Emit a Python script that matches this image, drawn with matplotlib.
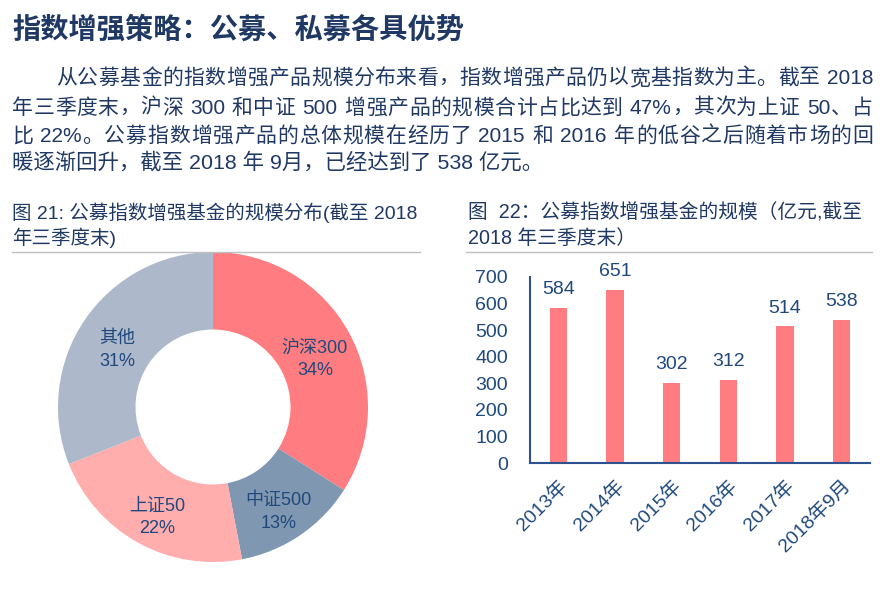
import numpy as np
import matplotlib.pyplot as plt
from matplotlib.lines import Line2D

plt.rcParams['font.family'] = ['Liberation Sans', 'Noto Sans CJK SC']

# ---- data ----
title = '指数增强策略：公募、私募各具优势'
para_lines = [
    '从公募基金的指数增强产品规模分布来看，指数增强产品仍以宽基指数为主。截至 2018',
    '年三季度末，沪深 300 和中证 500 增强产品的规模合计占比达到 47%，其次为上证 50、占',
    '比 22%。公募指数增强产品的总体规模在经历了 2015 和 2016 年的低谷之后随着市场的回',
    '暖逐渐回升，截至 2018 年 9月，已经达到了 538 亿元。',
]
cap_left = ['图 21: 公募指数增强基金的规模分布(截至 2018', '年三季度末)']
cap_right = ['图  22：公募指数增强基金的规模（亿元,截至', '2018 年三季度末）']

pie_names = ['沪深300', '中证500', '上证50', '其他']
pie_pct = [34, 13, 22, 31]
pie_colors = ['#FF7C80', '#8097B1', '#FFADAD', '#ADB9CA']

years = ['2013年', '2014年', '2015年', '2016年', '2017年', '2018年9月']
scale = [584, 651, 302, 312, 514, 538]

navy = '#1F3864'
txt_blue = '#1F497D'

W, H = 890, 594
fig = plt.figure(figsize=(W / 100, H / 100), dpi=100)
renderer = fig.canvas.get_renderer()


def px(x, y):
    return x / W, 1 - y / H


def justified(line, x0, x1, y, **kw):
    # split into tokens (runs of ascii kept together), spread extra space between them
    tokens = []
    for ch in line:
        if tokens and ch.isascii() and ch != ' ' and tokens[-1][-1].isascii() and tokens[-1][-1] != ' ':
            tokens[-1] += ch
        else:
            tokens.append(ch)
    texts = [fig.text(0, 0, t, va='center', **kw) for t in tokens]
    widths = [t.get_window_extent(renderer).width if t.get_text() != ' ' else 0.28 * kw['fontsize'] * 100 / 72
              for t in texts]
    gap = (x1 - x0 - sum(widths)) / (len(tokens) - 1)
    x = x0
    for t, w in zip(texts, widths):
        t.set_position(px(x, y))
        x += w + gap


# title and paragraph
fig.text(*px(12, 30), title, fontsize=20.3, fontweight='bold', color=navy, va='center')
para_x = [56, 12, 12, 12]
para_y = [78, 108, 136, 162]
for i, line in enumerate(para_lines):
    if i < 3:
        justified(line, para_x[i], 873, para_y[i], fontsize=15, color=navy)
    else:
        fig.text(*px(para_x[i], para_y[i]), line, fontsize=15.4, color=navy, va='center')

# captions
for i, line in enumerate(cap_left):
    fig.text(*px(12, 213 + 25 * i), line, fontsize=14, color=navy, va='center')
for i, line in enumerate(cap_right):
    fig.text(*px(468, 213 + 25 * i), line, fontsize=14.2, color=navy, va='center')
for x0, x1 in [(12, 420), (466, 872)]:
    fig.add_artist(Line2D([x0 / W, x1 / W], [1 - 252 / H] * 2, color='#BFBFBF', lw=1))

# donut
R = 155
cx, cy = 213, 407
ax1 = fig.add_axes([(cx - R) / W, (H - cy - R) / H, 2 * R / W, 2 * R / H])
wedges, _ = ax1.pie(pie_pct, colors=pie_colors, startangle=90, counterclock=False,
                    radius=1, wedgeprops=dict(width=0.5, edgecolor='none'))
for w, name, p in zip(wedges, pie_names, pie_pct):
    ang = np.deg2rad((w.theta1 + w.theta2) / 2)
    r = 0.75
    ax1.text(r * np.cos(ang), r * np.sin(ang) - 0.055, f'{name}\n{p}%', ha='center', va='center',
             fontsize=13, color=txt_blue, linespacing=1.45)
ax1.set_xlim(-1, 1)
ax1.set_ylim(-1, 1)
ax1.set_aspect('equal')
ax1.axis('off')

# bar chart
ax2 = fig.add_axes([530 / W, 131 / H, 340 / W, 186 / H])
x = np.arange(len(years))
bars = ax2.bar(x, scale, width=0.31, color='#FF7C80')
ax2.bar_label(bars, padding=7, fontsize=14, color=txt_blue)
ax2.set_xlim(-0.5, len(years) - 0.5)
ax2.set_ylim(0, 700)
ax2.set_yticks(range(0, 701, 100))
ax2.set_xticks(x)
ax2.set_xticklabels(years, rotation=45, ha='right', va='top', rotation_mode='anchor')
ax2.tick_params(length=0, labelsize=14, colors=txt_blue)
ax2.tick_params(axis='y', pad=16)
ax2.tick_params(axis='x', pad=10)
for s in ['top', 'right']:
    ax2.spines[s].set_visible(False)
for s in ['left', 'bottom']:
    ax2.spines[s].set_color('#2E5290')
    ax2.spines[s].set_linewidth(1.5)

fig.savefig('out.png', dpi=100)
